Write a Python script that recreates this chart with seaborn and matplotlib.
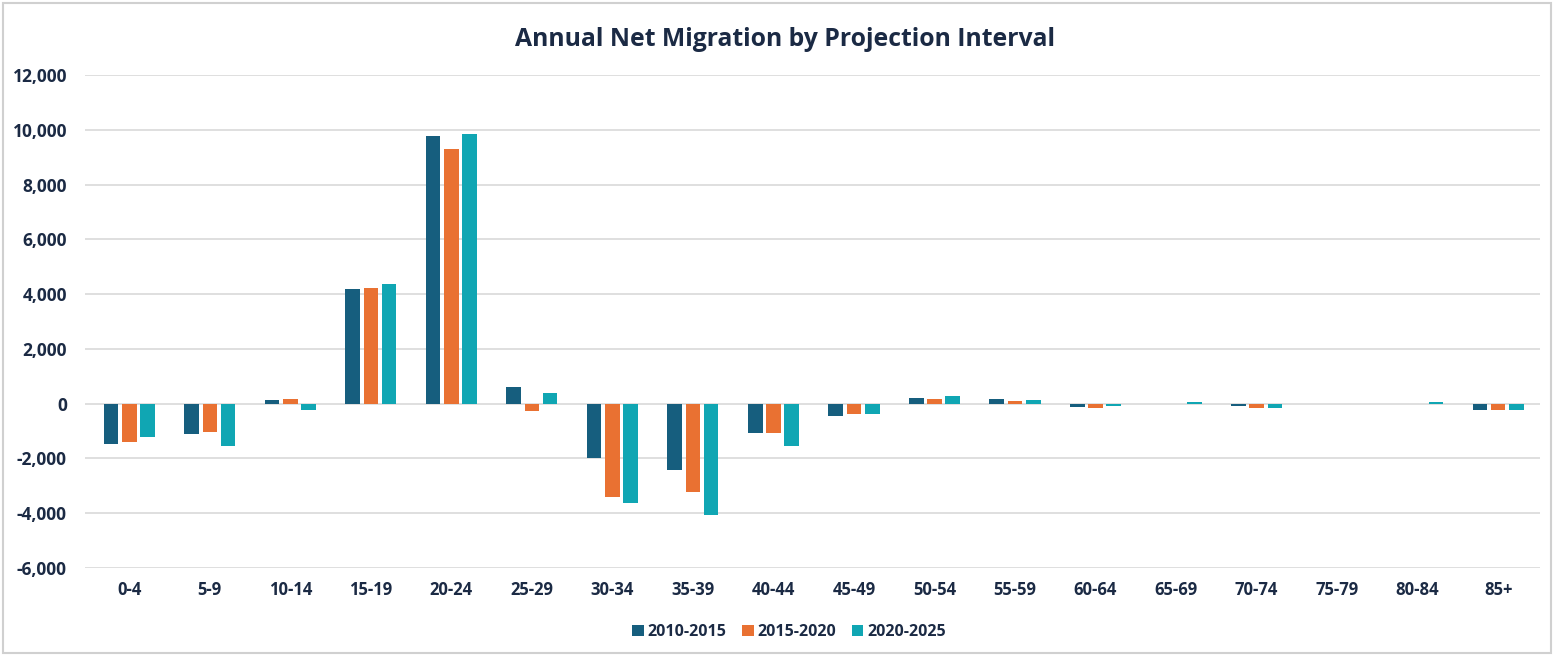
import matplotlib
matplotlib.use("Agg")
import matplotlib.pyplot as plt
from matplotlib.patches import Rectangle
from matplotlib.ticker import FuncFormatter
import seaborn as sns
import pandas as pd

# age groups on the x axis
age_groups = ["0-4", "5-9", "10-14", "15-19", "20-24", "25-29", "30-34", "35-39", "40-44",
              "45-49", "50-54", "55-59", "60-64", "65-69", "70-74", "75-79", "80-84", "85+"]

# annual net migration, one list per projection interval
net_2010_2015 = [-1465, -1090, 120, 4180, 9760, 600, -1990, -2415, -1085,
                 -465, 190, 160, -120, 0, -90, 0, 0, -230]
net_2015_2020 = [-1390, -1050, 160, 4230, 9300, -280, -3390, -3230, -1085,
                 -390, 160, 85, -160, 0, -160, 0, 0, -230]
net_2020_2025 = [-1210, -1550, -220, 4370, 9860, 400, -3635, -4070, -1550,
                 -390, 280, 150, -100, 60, -170, 0, 50, -240]

intervals = ["2010-2015", "2015-2020", "2020-2025"]
colors = ["#165E7E", "#E97132", "#10A6B3"]
navy = "#1B2A44"

rows = []
for name, vals in zip(intervals, [net_2010_2015, net_2015_2020, net_2020_2025]):
    for age, v in zip(age_groups, vals):
        rows.append({"age": age, "interval": name, "value": v})
df = pd.DataFrame(rows)

sns.set_theme(style="white")
plt.rcParams["font.family"] = ["Open Sans", "DejaVu Sans"]

fig = plt.figure(figsize=(15.54, 6.55), dpi=100)
ax = fig.add_axes([0.0547, 0.1328, 0.9363, 0.7527])

sns.barplot(data=df, x="age", y="value", hue="interval", order=age_groups,
            hue_order=intervals, palette=colors, width=0.68, gap=0.2,
            saturation=1, linewidth=0, ax=ax, errorbar=None, legend=True)

ax.set_ylim(-6000, 12000)
ax.set_yticks(range(-6000, 12001, 2000))
ax.set_xlim(-0.55, len(age_groups) - 0.48)
ax.yaxis.set_major_formatter(FuncFormatter(lambda v, p: f"{int(v):,}"))
ax.grid(axis="y", color="#D9D9D9", linewidth=1.2)
ax.set_axisbelow(True)
for s in ax.spines.values():
    s.set_visible(False)
ax.set_xlabel("")
ax.set_ylabel("")
ax.tick_params(axis="both", length=0, labelsize=12.5, labelcolor=navy)
ax.tick_params(axis="x", labelsize=12, pad=9)
ax.tick_params(axis="y", pad=13)
for lbl in ax.get_xticklabels() + ax.get_yticklabels():
    lbl.set_fontweight("bold")

leg = ax.legend(loc="upper center", bbox_to_anchor=(0.484, -0.085), ncol=3, frameon=False,
                handlelength=0.7, handleheight=0.7, handletextpad=0.25, columnspacing=1.0,
                prop={"weight": "bold", "size": 11.5})
for t in leg.get_texts():
    t.set_color(navy)

fig.text(0.505, 0.94, "Annual Net Migration by Projection Interval", ha="center", va="center",
         fontsize=17.8, fontweight="bold", color=navy)

fig.patches.append(Rectangle((0.002, 0.003), 0.996, 0.993, transform=fig.transFigure,
                             fill=False, edgecolor="#D0D0D0", linewidth=1.5))

fig.savefig("out.png", dpi=100)
